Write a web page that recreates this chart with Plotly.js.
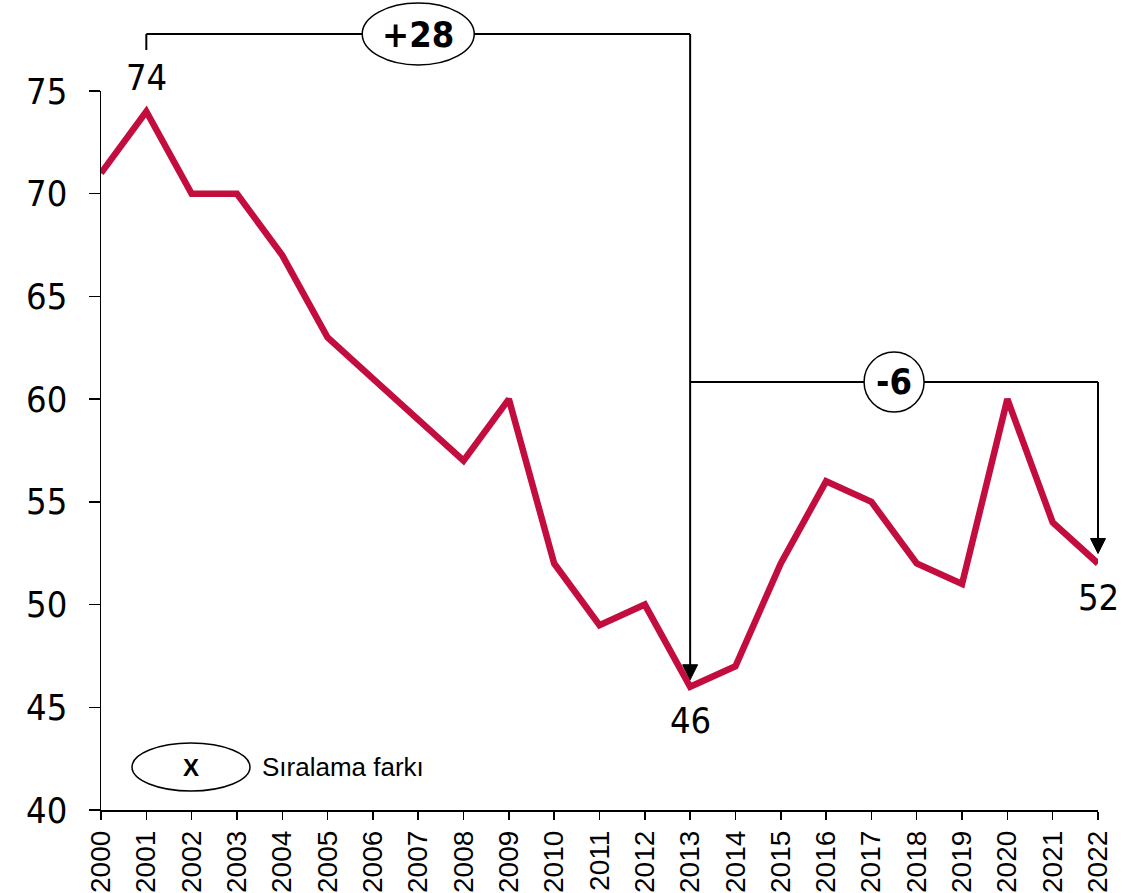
<!DOCTYPE html>
<html>
<head>
<meta charset="utf-8">
<script src="https://cdn.plot.ly/plotly-3.0.1.min.js"></script>
<style>html,body{margin:0;padding:0;background:#fff;}#chart{width:1133px;height:893px;}</style>
</head>
<body>
<div id="chart"></div>
<script>
// ---- data ----
const years = [2000,2001,2002,2003,2004,2005,2006,2007,2008,2009,2010,2011,2012,2013,2014,2015,2016,2017,2018,2019,2020,2021,2022];
const ranks = [71,74,70,70,67,63,61,59,57,60,52,49,50,46,47,52,56,55,52,51,60,54,52];
const yTickVals = [40,45,50,55,60,65,70,75];
const labelledYears = [2001, 2013, 2022];
const bracketA = {from: 2001, to: 2013, text: '+28'};
const bracketB = {from: 2013, to: 2022, text: '-6'};
const legendBadge = 'X';
const legendText = 'Sıralama farkı';

// ---- layout geometry ----
const W = 1133, H = 893;
const M = {l: 101, r: 35, t: 91, b: 83};
const PW = W - M.l - M.r, PH = H - M.t - M.b;
const xMin = years[0], xMax = years[years.length - 1];
const yMin = 40, yMax = 75;
const xp = v => (v - xMin) / (xMax - xMin);
const yp = v => (v - yMin) / (yMax - yMin);
const dx = px => px / PW;
const dy = px => px / PH;
const valOf = yr => ranks[years.indexOf(yr)];

const black = '#000000';
const red = '#C30D3E';
const numFont = '"DejaVu Sans Condensed", "DejaVu Sans", sans-serif';
const sansFont = '"Liberation Sans", Arial, sans-serif';

const shapes = [];
const annotations = [];

function line(x0, y0, x1, y1) {
  shapes.push({type: 'line', xref: 'paper', yref: 'paper', x0, y0, x1, y1,
    line: {color: black, width: 2}, layer: 'above'});
}
function arrowHead(x, yTip) {
  const hw = dx(7.5), h = dy(15);
  shapes.push({type: 'path', xref: 'paper', yref: 'paper',
    path: `M ${x - hw} ${yTip + h} L ${x + hw} ${yTip + h} L ${x} ${yTip} Z`,
    fillcolor: black, line: {color: black, width: 1}, layer: 'above'});
}
function ellipse(cx, cy, rxPx, ryPx) {
  shapes.push({type: 'circle', xref: 'paper', yref: 'paper',
    x0: cx - dx(rxPx), x1: cx + dx(rxPx), y0: cy - dy(ryPx), y1: cy + dy(ryPx),
    fillcolor: '#ffffff', line: {color: black, width: 1.5}, layer: 'above'});
}

// Bracket A (2001 -> 2013)
const yTopA = 1 + dy(91 - 34);
const yStartA = 1 + dy(91 - 50);
const aX0 = xp(bracketA.from), aX1 = xp(bracketA.to);
const aTip = yp(valOf(bracketA.to)) + dy(7);
line(aX0, yStartA, aX0, yTopA);
line(aX0, yTopA, aX1, yTopA);
line(aX1, yTopA, aX1, aTip + dy(14));
arrowHead(aX1, aTip);
const aMid = (aX0 + aX1) / 2;
ellipse(aMid, yTopA, 56, 31);
annotations.push({xref: 'paper', yref: 'paper', x: aMid, y: yTopA, text: '<b>' + bracketA.text + '</b>',
  showarrow: false, xanchor: 'center', yanchor: 'middle', font: {family: numFont, size: 36, color: black}});

// Bracket B (2013 -> 2022)
const yTopB = dy(810 - 382);
const bX0 = xp(bracketB.from), bX1 = xp(bracketB.to);
const bTip = yp(valOf(bracketB.to)) + dy(10);
line(bX0, yTopB, bX1, yTopB);
line(bX1, yTopB, bX1, bTip + dy(14));
arrowHead(bX1, bTip);
const bMid = (bX0 + bX1) / 2;
ellipse(bMid, yTopB, 30, 30);
annotations.push({xref: 'paper', yref: 'paper', x: bMid, y: yTopB, text: '<b>' + bracketB.text + '</b>',
  showarrow: false, xanchor: 'center', yanchor: 'middle', font: {family: numFont, size: 36, color: black}});

// Legend badge
const lgX = dx(191 - 101), lgY = dy(810 - 767);
ellipse(lgX, lgY, 59, 24);
annotations.push({xref: 'paper', yref: 'paper', x: lgX, y: lgY, text: '<b>' + legendBadge + '</b>',
  showarrow: false, xanchor: 'center', yanchor: 'middle', font: {family: sansFont, size: 24, color: black}});
annotations.push({xref: 'paper', yref: 'paper', x: dx(260 - 101), y: lgY, text: legendText,
  showarrow: false, xanchor: 'left', yanchor: 'middle', font: {family: sansFont, size: 26, color: black}});

// Point labels
labelledYears.forEach((yr, i) => {
  const above = i === 0;
  annotations.push({xref: 'x', yref: 'y', x: yr, y: valOf(yr), text: String(valOf(yr)),
    showarrow: false, xanchor: 'center', yanchor: 'middle', yshift: above ? 34 : -34,
    font: {family: numFont, size: 36, color: black}});
});

const trace = {
  x: years, y: ranks, type: 'scatter', mode: 'lines',
  line: {color: red, width: 6.5, shape: 'linear'},
  cliponaxis: false, hoverinfo: 'skip'
};

const layout = {
  width: W, height: H,
  margin: M,
  paper_bgcolor: '#ffffff', plot_bgcolor: '#ffffff',
  showlegend: false,
  xaxis: {
    range: [xMin, xMax], tickmode: 'array', tickvals: years, ticktext: years.map(String),
    tickangle: -90, ticks: 'outside', ticklen: 8, tickwidth: 1.5, tickcolor: black,
    showline: true, linecolor: black, linewidth: 1.5, showgrid: false, zeroline: false,
    tickfont: {family: sansFont, size: 28, color: black}, fixedrange: true
  },
  yaxis: {
    range: [yMin, yMax], tickmode: 'array', tickvals: yTickVals, ticktext: yTickVals.map(String),
    ticks: 'outside', ticklen: 11, tickwidth: 1.5, tickcolor: black, ticklabelstandoff: 14,
    showline: true, linecolor: black, linewidth: 1.5, showgrid: false, zeroline: false,
    tickfont: {family: numFont, size: 36, color: black}, fixedrange: true
  },
  shapes, annotations
};

Plotly.newPlot('chart', [trace], layout, {displayModeBar: false, staticPlot: true});
</script>
</body>
</html>
